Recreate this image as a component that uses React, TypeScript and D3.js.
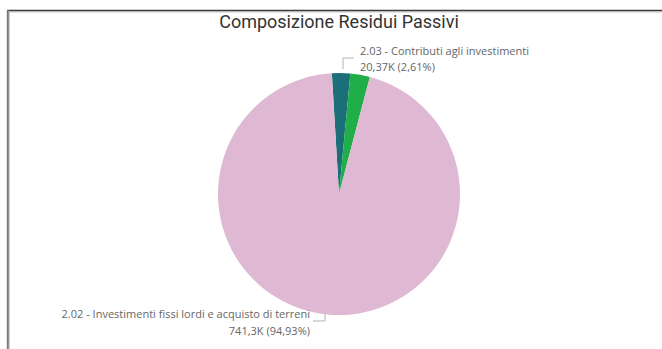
import React from "react";
import * as d3 from "d3";

const categories = [
  "2.05 - Altri trasferimenti in conto capitale",
  "2.03 - Contributi agli investimenti",
  "2.02 - Investimenti fissi lordi e acquisto di terreni",
];
const values = [19.04, 20.37, 741.3];
const valueLabels = ["19,04K", "20,37K", "741,3K"];
const percentLabels = ["2,46%", "2,61%", "94,93%"];
const colors = ["#1C6E78", "#1FAE48", "#DFB8D3"];

const W = 662;
const H = 349;
const cx = 339;
const cy = 194;
const R = 121;
const startDeg = -3.4;
const FONT = "'Open Sans', 'Noto Sans', sans-serif";

export default function App() {
  const start = (startDeg * Math.PI) / 180;
  const pie = d3
    .pie<number>()
    .sort(null)
    .value((d) => d)
    .startAngle(start)
    .endAngle(start + 2 * Math.PI);
  const arcs = pie(values);
  const arc = d3.arc<d3.PieArcDatum<number>>().innerRadius(0).outerRadius(R);

  return (
    <svg
      width={W}
      height={H}
      style={{ position: "absolute", left: 0, top: 0, background: "#fff" }}
    >
      {/* frame */}
      <line x1={7} y1={12} x2={W} y2={12} stroke="#c8c8c8" strokeWidth={1} />
      <line x1={7} y1={10.5} x2={W} y2={10.5} stroke="#3a3a3a" strokeWidth={1.6} />
      <line x1={9.5} y1={11} x2={9.5} y2={H} stroke="#d0d0d0" strokeWidth={1} />
      <line x1={7.8} y1={10} x2={7.8} y2={H} stroke="#7a7a7a" strokeWidth={2} />

      <text
        x={339}
        y={28}
        textAnchor="middle"
        fontFamily="'Roboto', 'Noto Sans', sans-serif"
        fontWeight={400}
        fontSize={18}
        fill="#333333"
      >
        Composizione Residui Passivi
      </text>

      <g transform={`translate(${cx},${cy})`}>
        {arcs.map((a, i) => (
          <path key={i} d={arc(a) || ""} fill={colors[i]} />
        ))}
      </g>

      {/* leader lines */}
      <polyline
        points="343,69 343,58 354,58"
        fill="none"
        stroke="#b3b3b3"
        strokeWidth={1}
      />
      <polyline
        points="325,313 325,321 313,321"
        fill="none"
        stroke="#b3b3b3"
        strokeWidth={1}
      />

      <g fontFamily={FONT} fontSize={11} fill="#666666">
        <text x={360} y={55}>
          {categories[1]}
        </text>
        <text x={360} y={71}>
          {`${valueLabels[1]} (${percentLabels[1]})`}
        </text>
        <text x={310} y={318} textAnchor="end">
          {categories[2]}
        </text>
        <text x={310} y={335} textAnchor="end">
          {`${valueLabels[2]} (${percentLabels[2]})`}
        </text>
      </g>
    </svg>
  );
}
